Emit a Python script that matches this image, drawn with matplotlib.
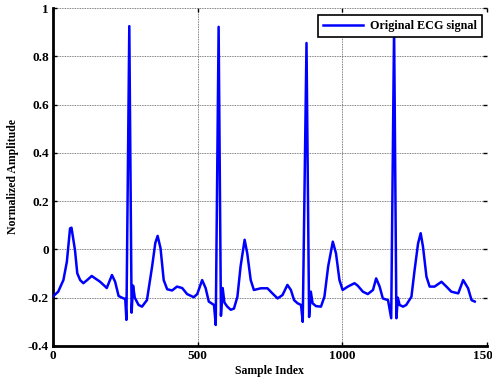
import matplotlib
matplotlib.use("Agg")
import matplotlib.pyplot as plt
from matplotlib.ticker import FixedLocator

# ECG trace (sample index, normalized amplitude)
samples = [0, 18, 36, 48, 59, 64, 76, 84, 94, 105, 120, 134, 146, 163, 181, 186, 196, 204, 215, 227, 244, 250,
           254, 264, 272, 277, 283, 296, 308, 325, 343, 354, 362, 372, 383, 395, 412, 429, 447, 464, 487, 499,
           516, 528, 539, 557, 563, 573, 581, 587, 593, 603, 615, 626, 638, 649, 663, 672, 684, 695, 719, 742,
           759, 777, 794, 811, 823, 834, 846, 858, 864, 877, 886, 892, 898, 910, 927, 939, 952, 968, 979, 991,
           1002, 1020, 1043, 1054, 1072, 1089, 1107, 1118, 1130, 1141, 1159, 1170, 1180, 1188, 1193, 1199, 1211,
           1222, 1240, 1251, 1263, 1272, 1280, 1292, 1303, 1320, 1344, 1361, 1378, 1402, 1419, 1436, 1448, 1459]
amplitude = [-0.195, -0.175, -0.127, -0.051, 0.087, 0.09, -0.002, -0.099, -0.127, -0.14, -0.125, -0.11, -0.12,
             -0.134, -0.154, -0.16, -0.13, -0.106, -0.134, -0.193, -0.203, -0.205,
             -0.292, 0.925, -0.262, -0.15, -0.2, -0.23, -0.237, -0.21, -0.07, 0.027, 0.056, 0.005, -0.127, -0.165,
             -0.17, -0.154, -0.16, -0.185, -0.198, -0.185,
             -0.127, -0.16, -0.216, -0.23, -0.313, 0.922, -0.275, -0.16, -0.22, -0.237, -0.25, -0.245, -0.196,
             -0.07, 0.04, -0.016, -0.127, -0.168, -0.161, -0.161,
             -0.182, -0.203, -0.189, -0.147, -0.168, -0.21, -0.223, -0.23, -0.30, 0.855, -0.28, -0.175, -0.223,
             -0.235, -0.237, -0.196, -0.07, 0.032, -0.016, -0.127,
             -0.168, -0.154, -0.14, -0.15, -0.175, -0.185, -0.168, -0.12, -0.154, -0.203, -0.21, -0.285, 0.92,
             -0.285, -0.2, -0.23, -0.237,
             -0.23, -0.196, -0.085, 0.025, 0.067, 0.011, -0.113, -0.154, -0.154, -0.134, -0.154, -0.175, -0.182,
             -0.127, -0.161, -0.21, -0.216]

x_ticks = [0, 500, 1000, 1500]
y_ticks = [-0.4, -0.2, 0, 0.2, 0.4, 0.6, 0.8, 1]
y_tick_labels = ["-0.4", "-0.2", "0", "0.2", "0.4", "0.6", "0.8", "1"]

plt.rcParams['font.family'] = ['Liberation Serif', 'DejaVu Serif']
plt.rcParams['font.weight'] = 'bold'

fig = plt.figure(figsize=(4.92, 3.81), dpi=100)
ax = fig.add_axes([0.1077, 0.0919, 0.8813, 0.8871])

ax.plot(samples, amplitude, color=(0, 0, 1), lw=1.8, label='Original ECG signal', zorder=3)

ax.set_xlim(0, 1500)
ax.set_ylim(-0.4, 1)
ax.xaxis.set_major_locator(FixedLocator(x_ticks))
ax.set_yticks(y_ticks)
ax.set_yticklabels(y_tick_labels)
ax.tick_params(direction='in', length=3, width=1, labelsize=9.5, top=True, right=True, pad=3)
for lab in ax.get_xticklabels() + ax.get_yticklabels():
    lab.set_fontweight('bold')

ax.grid(True, color='#555555', linestyle=(0, (1, 1)), lw=0.6)
for s in ['left', 'bottom']:
    ax.spines[s].set_linewidth(2)
for s in ['top', 'right']:
    ax.spines[s].set_visible(False)

ax.set_xlabel('Sample Index', fontsize=8.5, fontweight='bold', labelpad=2)
ax.set_ylabel('Normalized Amplitude', fontsize=8.5, fontweight='bold', labelpad=6)

leg = ax.legend(loc='upper right', fontsize=8.7, fancybox=False, framealpha=1, edgecolor='black',
                handlelength=3.3, borderpad=0.4, handletextpad=0.6, borderaxespad=0,
                bbox_to_anchor=(0.9896, 0.979))
leg.get_frame().set_linewidth(1.2)
leg.set_zorder(5)
for t in leg.get_texts():
    t.set_fontweight('bold')

fig.savefig('out.png', dpi=100)
